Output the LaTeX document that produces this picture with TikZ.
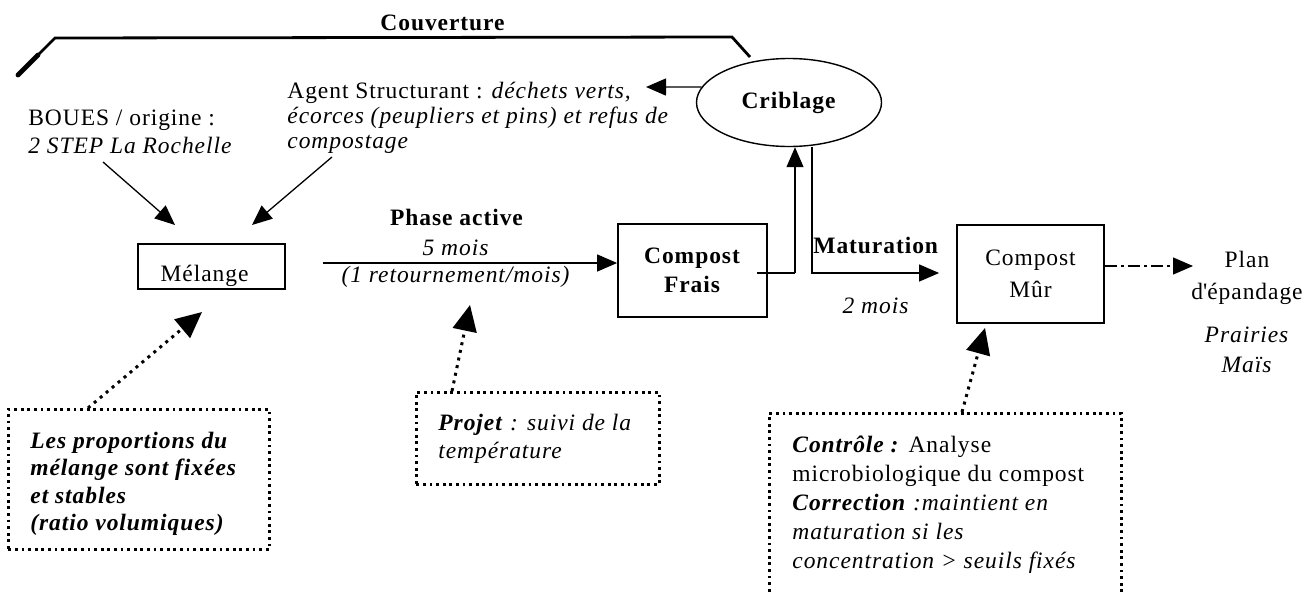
\documentclass[tikz,border=0pt]{standalone}
\usepackage{fontspec}
\setmainfont{Liberation Serif}[LetterSpace=4]
\usetikzlibrary{arrows.meta,shapes.geometric}

\begin{document}
\begin{tikzpicture}[x=0.5pt, y=-0.5pt,
  every node/.style={inner sep=0pt, font=\fontsize{11.75pt}{13.5pt}\selectfont},
  lead/.style={font=\fontsize{11.75pt}{#1}\selectfont},
  lbl/.style={align=left, anchor=north west},
  procbox/.style={draw, line width=0.9pt, align=center},
  notebox/.style={draw, line width=1.4pt, dash pattern=on 1.4pt off 1.9pt, anchor=north west},
  arr/.style={line width=0.65pt, -{Triangle[length=10pt,width=8.5pt]}},
  dotarr/.style={line width=1.5pt, dash pattern=on 1.5pt off 2.4pt, -{Triangle[length=13pt,width=12pt]}},
  dashdotarr/.style={line width=0.65pt, dash pattern=on 6pt off 2pt on 1.5pt off 2pt, -{Triangle[length=10pt,width=8.5pt]}},
  cover/.style={line width=1.4pt, line join=miter}
]
\useasboundingbox (0,0) rectangle (1316,594);
\clip (0,0) rectangle (1316,594);

% cover line over the whole process
\coordinate (covA) at (18,75);
\coordinate (covB) at (55,38);
\coordinate (covC) at (732,37);
\coordinate (covD) at (750,57);
\draw[cover] (covA) -- (covB) -- (covC) -- (covD);
\draw[line width=2.4pt, line cap=round] (covA) -- (38,55);
\node[anchor=base] (couv) at (443,31) {\textbf{Couverture}};

% screening
\node[draw, ellipse, line width=0.7pt, minimum width=92.5pt, minimum height=44pt]
  (crib) at (789,102.5) {\textbf{Criblage}};

% inputs
\node[lbl, lead=14pt] (boues) at (28,105.4)
  {\strut BOUES / origine :\\\textit{2 STEP La Rochelle}};
\node[lbl, lead=12.5pt] (agent) at (287,80.5)
  {\strut Agent Structurant : \textit{déchets verts,}\\\textit{écorces (peupliers et pins) et refus de}\\\textit{compostage}};

% process boxes
\node[procbox, minimum width=73.5pt, minimum height=22.5pt, text height=15pt, text depth=0.3pt]
  (mel) at (211.5,266.5) {\hspace*{-7pt}Mélange};
\node[procbox, lead=14.5pt, minimum width=74.5pt, minimum height=46.5pt]
  (frais) at (692.5,270.5) {\textbf{Compost}\\\textbf{Frais}};
\node[procbox, lead=16pt, minimum width=73.5pt, minimum height=49pt]
  (mur) at (1030.5,274) {Compost\\Mûr};

% spreading
\node[lead=16pt, align=center, anchor=north] (plan) at (1247,244.6)
  {\strut Plan\\d\textquotesingle épandage};
\node[lead=15pt, align=center, anchor=north] (crops) at (1247,321)
  {\strut\textit{Prairies}\\\textit{Maïs}};

% phase labels
\node[anchor=base] (phase) at (457,225) {\textbf{Phase active}};
\node[anchor=base] (cinq) at (456,255) {\textit{5 mois}};
\node[anchor=base] (retour) at (456,282) {\textit{(1 retournement/mois)}};
\node[anchor=base west] (matur) at (813,253) {\textbf{Maturation}};
\node[anchor=base] (deux) at (876,313) {\textit{2 mois}};

% note boxes
\node[notebox, minimum width=130.5pt, minimum height=70pt] (box1) at (7,408) {};
\node[lbl, lead=13.75pt] (box1txt) at (30,428.7)
  {\strut\textbf{\textit{Les proportions du}}\\\textbf{\textit{mélange sont fixées}}\\\textbf{\textit{et stables}}\\\textbf{\textit{(ratio volumiques)}}};
\node[notebox, minimum width=121.5pt, minimum height=46pt] (box2) at (415,391) {};
\node[lbl, lead=14pt] (box2txt) at (438,410.4)
  {\strut\textbf{\textit{Projet}}\textit{ : suivi de la}\\\textit{température}};
\node[notebox, minimum width=176pt, minimum height=101.5pt] (box3) at (768,412) {};
\node[lbl, lead=14.5pt] (box3txt) at (792,431.7)
  {\strut\textbf{\textit{Contrôle :}} Analyse\\microbiologique du compost\\\textbf{\textit{Correction}}\textit{ :maintient en}\\\textit{maturation si les}\\\textit{concentration > seuils fixés}};

% connector end points
\coordinate (bouesfrom) at (103,162);
\coordinate (bouesto) at (175,225);
\coordinate (agentfrom) at (332,157);
\coordinate (agentto) at (252,225);
\coordinate (agenttip) at (646,87);
\coordinate (phasefrom) at (323,263);
\coordinate (fraisout) at (757,273);
\coordinate (upx) at (795,0);
\coordinate (downx) at (812,0);
\coordinate (planpt) at (1193,266);
\coordinate (meldot) at (202,312);
\coordinate (phasedot) at (470,305);
\coordinate (murdot) at (985,328);

% solid connectors
\draw[arr] (bouesfrom) -- (bouesto);
\draw[arr] (agentfrom) -- (agentto);
\draw[arr] (crib.170) -- (agenttip);
\draw[arr] (phasefrom) -- (phasefrom -| frais.west);
\draw[line width=0.65pt] (fraisout) -- (fraisout -| upx);
\draw[arr] (fraisout -| upx) -- (crib.south -| upx);
\draw[arr, shorten >=8.5pt] (crib.south -| downx) |- (mur.west |- fraisout);
\draw[dashdotarr] (mur.east |- planpt) -- (planpt);

% dotted connectors from the notes
\draw[dotarr] ([xshift=40.5pt]box1.north west) -- (meldot);
\draw[dotarr] ([xshift=18.5pt]box2.north west) -- (phasedot);
\draw[dotarr] ([xshift=97pt]box3.north west) -- (murdot);
\end{tikzpicture}
\end{document}
